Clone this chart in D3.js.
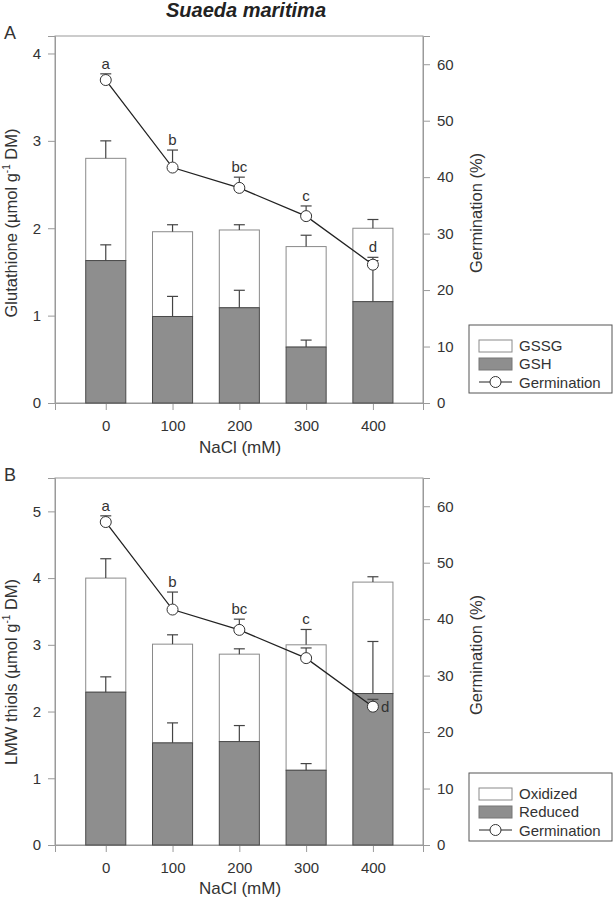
<!DOCTYPE html>
<html><head><meta charset="utf-8">
<script src="https://cdn.jsdelivr.net/npm/d3@7"></script>
<style>
body{margin:0;background:#fff;}
svg text{font-family:"Liberation Sans",Arial,sans-serif;fill:#333;}
</style></head>
<body><svg id="c" width="615" height="900"></svg>
<script>
// ---------- data ----------
const categories = [0, 100, 200, 300, 400];
const xTicks = [0, 100, 200, 300, 400];
const germination = [57.2, 41.7, 38.1, 33.1, 24.5];
const germinationErr = [1.1, 3.1, 1.9, 1.8, 1.3];
const germLetters = ["a", "b", "bc", "c", "d"];

// Panel A: glutathione
const gshA = [1.63, 0.99, 1.09, 0.64, 1.16];
const gshErrA = [0.18, 0.23, 0.20, 0.08, 0.47];
const gssgA = [1.17, 0.97, 0.89, 1.15, 0.84];
const totalErrA = [0.20, 0.08, 0.06, 0.13, 0.10];
const leftTicksA = [0, 1, 2, 3, 4];

// Panel B: LMW thiols
const reducedB = [2.29, 1.53, 1.55, 1.12, 2.27];
const reducedErrB = [0.23, 0.30, 0.24, 0.10, 0.78];
const oxidizedB = [1.71, 1.48, 1.31, 1.88, 1.67];
const totalErrB = [0.29, 0.14, 0.08, 0.23, 0.08];
const leftTicksB = [0, 1, 2, 3, 4, 5];
const rightTicks = [0, 10, 20, 30, 40, 50, 60];
// letter placement: "top" above germination error cap, "bar" above bar error, "right" beside point
const letterPosA = ["top", "top", "top", "top", "top"];
const letterPosB = ["top", "top", "top", "bar", "right"];

const svg = d3.select("#c");
const FRAME = "#9a9a9a";

svg.append("text").attr("x", 246).attr("y", 17).attr("text-anchor", "middle")
  .style("font-size", "20px").style("font-weight", "bold").style("font-style", "italic")
  .style("fill", "#222").text("Suaeda maritima");

function panel(cfg) {
  const L = 55, R = 423, T = cfg.top, B = cfg.bottom;
  const x = d3.scaleLinear().domain([-76, 475]).range([L, R]);
  const yl = d3.scaleLinear().domain([0, cfg.leftMax]).range([B, T]);
  const yr = d3.scaleLinear().domain([0, 65]).range([B, T]);
  const g = svg.append("g");
  const bw = x(30) - x(-30);

  // panel letter
  g.append("text").attr("x", 4).attr("y", T + 3).style("font-size", "18px").text(cfg.label);

  // frame
  g.append("rect").attr("x", L).attr("y", T).attr("width", R - L).attr("height", B - T)
    .attr("fill", "none").attr("stroke", FRAME).attr("stroke-width", 1);

  // axes
  const la = d3.axisLeft(yl).tickValues(cfg.leftTicks).tickSize(7).tickPadding(7).tickFormat(d3.format("d"));
  const ra = d3.axisRight(yr).tickValues(rightTicks).tickSize(7).tickPadding(7);
  const ba = d3.axisBottom(x).tickValues(xTicks).tickSize(7).tickPadding(10);
  const styleAxis = s => {
    s.select(".domain").attr("stroke", FRAME);
    s.selectAll(".tick line").attr("stroke", FRAME);
    s.selectAll(".tick text").style("font-size", "15px").style("font-family", "Liberation Sans, Arial").attr("fill", "#333");
  };
  g.append("g").attr("transform", `translate(${L},0)`).call(la).call(styleAxis);
  g.append("g").attr("transform", `translate(${R},0)`).call(ra).call(styleAxis);
  g.append("g").attr("transform", `translate(0,${B})`).call(ba).call(styleAxis);

  // axis titles
  g.append("text").attr("x", 240).attr("y", cfg.xTitleY).attr("text-anchor", "middle")
    .style("font-size", "17px").text("NaCl (mM)");
  const lt = g.append("text").attr("transform", `translate(17,${cfg.leftTitleY}) rotate(-90)`)
    .attr("text-anchor", "middle").style("font-size", "16.5px");
  lt.append("tspan").text(cfg.leftTitle + " (µmol g");
  lt.append("tspan").attr("dy", -7).style("font-size", "10px").text("-1");
  lt.append("tspan").attr("dy", 7).text(" DM)");
  g.append("text").attr("transform", `translate(482,${cfg.rightTitleY}) rotate(-90)`)
    .attr("text-anchor", "middle").style("font-size", "16.5px").text("Germination (%)");

  const rows = categories.map((c, i) => ({
    c, low: cfg.low[i], lowErr: cfg.lowErr[i], up: cfg.up[i], totErr: cfg.totErr[i],
    g: germination[i], gErr: germinationErr[i], letter: germLetters[i], pos: cfg.letterPos[i]
  }));

  // white (upper) bars
  g.selectAll(".up").data(rows).enter().append("rect")
    .attr("x", d => x(d.c) - bw / 2).attr("width", bw)
    .attr("y", d => yl(d.low + d.up)).attr("height", d => yl(d.low) - yl(d.low + d.up))
    .attr("fill", "#fff").attr("stroke", "#8a8a8a").attr("stroke-width", 1);
  const err = (sel, base, top) => {
    sel.append("line").attr("x1", d => x(d.c)).attr("x2", d => x(d.c))
      .attr("y1", d => base(d)).attr("y2", d => top(d)).attr("stroke", "#444").attr("stroke-width", 1.2);
    sel.append("line").attr("x1", d => x(d.c) - 5.5).attr("x2", d => x(d.c) + 5.5)
      .attr("y1", d => top(d)).attr("y2", d => top(d)).attr("stroke", "#444").attr("stroke-width", 1.2);
  };
  const eTot = g.selectAll(".et").data(rows).enter().append("g");
  err(eTot, d => yl(d.low + d.up), d => yl(d.low + d.up + d.totErr));
  // gray (lower) bars
  g.selectAll(".low").data(rows).enter().append("rect")
    .attr("x", d => x(d.c) - bw / 2).attr("width", bw)
    .attr("y", d => yl(d.low)).attr("height", d => yl(0) - yl(d.low))
    .attr("fill", "#8e8e8e").attr("stroke", "#4a4a4a").attr("stroke-width", 1);
  const eLow = g.selectAll(".el").data(rows).enter().append("g");
  err(eLow, d => yl(d.low), d => yl(d.low + d.lowErr));

  // germination error bars
  const eG = g.selectAll(".eg").data(rows).enter().append("g");
  err(eG, d => yr(d.g), d => yr(d.g + d.gErr));
  // germination line
  g.append("path").datum(rows)
    .attr("d", d3.line().x(d => x(d.c)).y(d => yr(d.g)))
    .attr("fill", "none").attr("stroke", "#222").attr("stroke-width", 1.3);
  g.selectAll(".pt").data(rows).enter().append("circle")
    .attr("cx", d => x(d.c)).attr("cy", d => yr(d.g)).attr("r", 5.5)
    .attr("fill", "#fff").attr("stroke", "#333").attr("stroke-width", 1);
  // letters
  g.selectAll(".lt").data(rows).enter().append("text")
    .attr("x", d => d.pos === "right" ? x(d.c) + 8 : x(d.c))
    .attr("y", d => d.pos === "right" ? yr(d.g) + 5 :
      d.pos === "bar" ? yl(d.low + d.up + d.totErr) - 5 : yr(d.g + d.gErr) - 5)
    .attr("text-anchor", d => d.pos === "right" ? "start" : "middle")
    .style("font-size", "15px").text(d => d.letter);

  // legend
  const lg = g.append("g").attr("transform", `translate(469,${cfg.legendTop})`);
  lg.append("rect").attr("width", 143).attr("height", 68).attr("fill", "#fff").attr("stroke", "#555");
  lg.append("rect").attr("x", 10).attr("y", 15).attr("width", 33).attr("height", 12)
    .attr("fill", "#fff").attr("stroke", "#8a8a8a");
  lg.append("rect").attr("x", 10).attr("y", 33).attr("width", 33).attr("height", 12)
    .attr("fill", "#8e8e8e").attr("stroke", "#777");
  lg.append("line").attr("x1", 10).attr("x2", 43).attr("y1", 57).attr("y2", 57).attr("stroke", "#222");
  lg.append("circle").attr("cx", 26.5).attr("cy", 57).attr("r", 5.5).attr("fill", "#fff").attr("stroke", "#333");
  cfg.legend.forEach((t, i) => lg.append("text").attr("x", 50).attr("y", 26 + i * 18 + (i === 2 ? 1 : 0))
    .style("font-size", "15px").text(t));
}

panel({label: "A", top: 36, bottom: 403, leftMax: 4.2, leftTicks: leftTicksA,
  low: gshA, lowErr: gshErrA, up: gssgA, totErr: totalErrA, letterPos: letterPosA,
  leftTitle: "Glutathione", leftTitleY: 223, rightTitleY: 213, xTitleY: 453, legendTop: 325,
  legend: ["GSSG", "GSH", "Germination"]});
panel({label: "B", top: 478, bottom: 845, leftMax: 5.5, leftTicks: leftTicksB,
  low: reducedB, lowErr: reducedErrB, up: oxidizedB, totErr: totalErrB, letterPos: letterPosB,
  leftTitle: "LMW thiols", leftTitleY: 672, rightTitleY: 655, xTitleY: 894, legendTop: 773,
  legend: ["Oxidized", "Reduced", "Germination"]});
</script></body></html>
